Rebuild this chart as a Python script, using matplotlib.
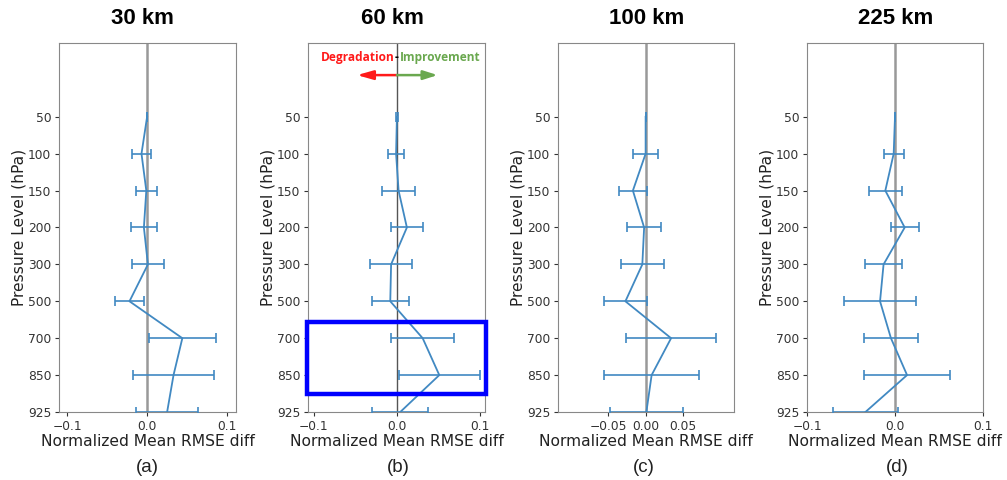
import numpy as np
import matplotlib
matplotlib.use("Agg")
import matplotlib.pyplot as plt
from matplotlib.patches import Rectangle
from matplotlib.transforms import blended_transform_factory

levels = ["50", "100", "150", "200", "300", "500", "700", "850", "925"]
titles = ["30 km", "60 km", "100 km", "225 km"]
panel_tags = ["(a)", "(b)", "(c)", "(d)"]

mean_30km = [0.0, -0.007, -0.001, -0.004, 0.001, -0.022, 0.044, 0.033, 0.025]
err_30km = [0.0, 0.012, 0.013, 0.016, 0.020, 0.018, 0.042, 0.051, 0.039]

mean_60km = [0.0, -0.001, 0.002, 0.012, -0.007, -0.008, 0.031, 0.051, 0.004]
err_60km = [0.0015, 0.0095, 0.020, 0.019, 0.0255, 0.022, 0.038, 0.049, 0.034]

mean_100km = [0.0, 0.0, -0.017, -0.002, -0.0044, -0.027, 0.034, 0.008, 0.001]
err_100km = [0.0, 0.017, 0.019, 0.023, 0.029, 0.0285, 0.060, 0.063, 0.049]

mean_225km = [0.0, -0.0015, -0.011, 0.011, -0.013, -0.017, -0.0046, 0.0137, -0.0336]
err_225km = [0.0, 0.0115, 0.019, 0.016, 0.021, 0.041, 0.031, 0.0485, 0.037]

means = [mean_30km, mean_60km, mean_100km, mean_225km]
errs = [err_30km, err_60km, err_100km, err_225km]

xlims = [(-0.11, 0.111), (-0.107, 0.106), (-0.117, 0.118), (-0.1, 0.1)]
xticks = [[-0.1, 0.0, 0.1], [-0.1, 0.0, 0.1], [-0.05, 0.0, 0.05], [-0.1, 0.0, 0.1]]
xticklabels = [["\u22120.1", "0.0", "0.1"], ["\u22120.1", "0.0", "0.1"],
               ["\u22120.05", "0.00", "0.05"], ["\u22120.1", "0.0", "0.1"]]

W, H = 1007, 480
fig = plt.figure(figsize=(W / 100, H / 100), dpi=100)
lefts = [59, 308, 558, 807]
widths = [177, 177, 176, 176]
title_cx = [142, 392, 647, 896]
tag_cx = [147, 398, 644, 897]
ax_top, ax_bot = 43, 412

line_color = "#4189c2"
ypos = np.arange(len(levels))

for i in range(4):
    ax = fig.add_axes([lefts[i] / W, 1 - ax_bot / H, widths[i] / W, (ax_bot - ax_top) / H])
    if i == 1:
        ax.axvline(0, color="#555555", lw=1.0, zorder=1)
    else:
        ax.axvline(0, color="#999999", lw=1.8, zorder=1)
    ax.errorbar(means[i], ypos, xerr=errs[i], color=line_color, lw=1.3,
                elinewidth=1.2, capsize=3.5, capthick=1.2, zorder=3)
    ax.set_ylim(8, -2)
    ax.set_xlim(*xlims[i])
    ax.set_yticks(ypos)
    ax.set_yticklabels(levels)
    ax.set_xticks(xticks[i])
    ax.set_xticklabels(xticklabels[i])
    ax.tick_params(labelsize=8.8, colors="#333333", length=3, pad=2.5)
    for s in ax.spines.values():
        s.set_color("#888888")
    ax.set_ylabel("Pressure Level (hPa)", fontsize=11.2, color="#222222", labelpad=1)
    ax.set_xlabel("Normalized Mean RMSE diff", fontsize=11.2, color="#222222", labelpad=1)
    fig.text(title_cx[i] / W, 1 - 18 / H, titles[i], ha="center", va="center",
             fontsize=16, fontweight="bold", family="Liberation Sans")
    fig.text(tag_cx[i] / W, 1 - 467 / H, panel_tags[i], ha="center", va="center",
             fontsize=13.5, family="Liberation Sans", color="#222222")

    if i == 1:
        ax.text(-0.003, -1.6, "Degradation", color="#ff1a1a", fontsize=8.6,
                fontweight="bold", family="Open Sans", ha="right", va="center")
        ax.text(0.0, -1.6, "-", color="black", fontsize=8.6, fontweight="bold",
                family="Open Sans", ha="center", va="center")
        ax.text(0.004, -1.6, "Improvement", color="#6aa84f", fontsize=8.6,
                fontweight="bold", family="Open Sans", ha="left", va="center")
        ax.annotate("", xy=(-0.048, -1.13), xytext=(0.0, -1.13),
                    arrowprops=dict(arrowstyle="-|>,head_length=0.95,head_width=0.27",
                                    color="#ff1a1a", lw=1.8,
                                    mutation_scale=10, shrinkA=0, shrinkB=0))
        ax.annotate("", xy=(0.049, -1.13), xytext=(0.0, -1.13),
                    arrowprops=dict(arrowstyle="-|>,head_length=0.85,head_width=0.27",
                                    color="#6aa84f", lw=1.8,
                                    mutation_scale=10, shrinkA=0, shrinkB=0))
        trans = blended_transform_factory(ax.transAxes, ax.transData)
        rect = Rectangle((-0.005, 5.57), 1.012, 1.94, transform=trans,
                         fill=False, edgecolor="#0000ff", lw=3.2, clip_on=False, zorder=5)
        ax.add_patch(rect)

fig.savefig("out.png", dpi=100)
